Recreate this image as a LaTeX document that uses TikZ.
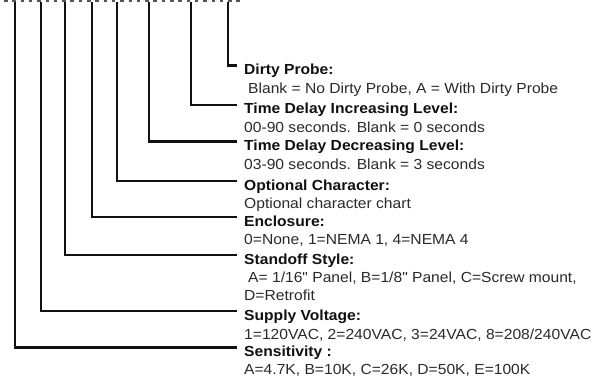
\documentclass[tikz,border=0pt]{standalone}
\usepackage{fontspec}
\setmainfont[FakeStretch=1.07,Ligatures=TeXOff]{Liberation Sans}
\definecolor{ink}{HTML}{111111}
\definecolor{desc}{HTML}{2A2A2A}
\definecolor{dots}{HTML}{555555}
\begin{document}
\begin{tikzpicture}[x=1pt,y=-1pt,
  lead/.style={draw=ink,line width=2.8pt,line cap=rect},
  ttl/.style={anchor=west,inner xsep=8pt,inner ysep=0pt,text height=18pt,text depth=0pt,
    font=\fontsize{14.6}{18}\selectfont\bfseries,text=ink},
  dsc/.style={anchor=base west,inner xsep=8pt,inner ysep=0pt,
    font=\fontsize{14.6}{18}\selectfont,text=desc}]
\useasboundingbox (0,0) rectangle (605,377);
\fill[white] (0,0) rectangle (605,377);
% cropped row at the top
\draw[dots,line width=2pt,dash pattern=on 3.5pt off 4.8pt] (4,1) -- (242,1);
% top start points of the leader lines
\coordinate (s8) at (15,3);
\coordinate (s7) at (41,3);
\coordinate (s6) at (65,3);
\coordinate (s5) at (92,3);
\coordinate (s4) at (117,3);
\coordinate (s3) at (149,3);
\coordinate (s2) at (191,3);
\coordinate (s1) at (228,3);
% titles
\node[ttl] (t1) at (236,65.5) {Dirty Probe:};
\node[ttl] (t2) at (236,105) {Time Delay Increasing Level:};
\node[ttl] (t3) at (236,141.5) {Time Delay Decreasing Level:};
\node[ttl] (t4) at (236,181) {Optional Character:};
\node[ttl] (t5) at (236,217) {Enclosure:};
\node[ttl] (t6) at (236,255) {Standoff Style:};
\node[ttl] (t7) at (236,311) {Supply Voltage:};
\node[ttl] (t8) at (236,347.5) {Sensitivity :};
% descriptions
\node[dsc] (d1) at ([yshift=-19pt]t1.base west) {\hspace*{4pt}Blank = No Dirty Probe, A = With Dirty Probe};
\node[dsc] (d2) at ([yshift=-18.5pt]t2.base west) {00-90 seconds. Blank = 0 seconds};
\node[dsc] (d3) at ([yshift=-18.5pt]t3.base west) {03-90 seconds. Blank = 3 seconds};
\node[dsc] (d4) at ([yshift=-18.5pt]t4.base west) {Optional character chart};
\node[dsc] (d5) at ([yshift=-18.5pt]t5.base west) {0=None, 1=NEMA 1, 4=NEMA 4};
\node[dsc] (d6) at ([yshift=-18.5pt]t6.base west) {\hspace*{4pt}A= 1/16" Panel, B=1/8" Panel, C=Screw mount,};
\node[dsc] (d6b) at ([yshift=-18pt]d6.base west) {D=Retrofit};
\node[dsc] (d7) at ([yshift=-19pt]t7.base west) {1=120VAC, 2=240VAC, 3=24VAC, 8=208/240VAC};
\node[dsc] (d8) at ([yshift=-17.5pt]t8.base west) {A=4.7K, B=10K, C=26K, D=50K, E=100K};
% leader lines
\draw[lead] (s1) |- (t1.west);
\draw[lead] (s2) |- (t2.west);
\draw[lead] (s3) |- (t3.west);
\draw[lead] (s4) |- (t4.west);
\draw[lead] (s5) |- (t5.west);
\draw[lead] (s6) |- (t6.west);
\draw[lead] (s7) |- (t7.west);
\draw[lead] (s8) |- (t8.west);
\end{tikzpicture}
\end{document}
